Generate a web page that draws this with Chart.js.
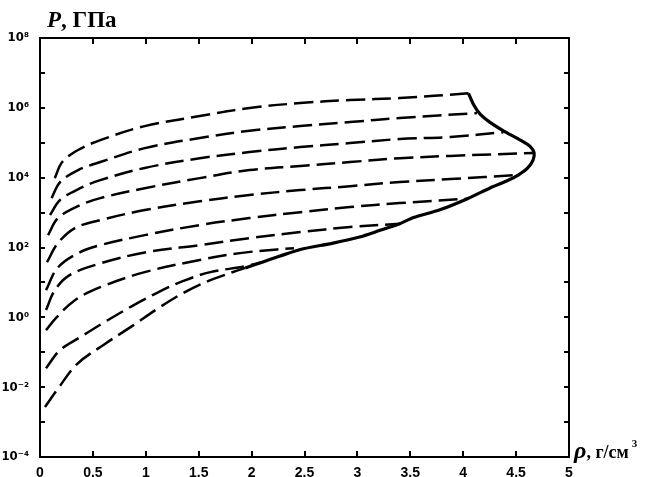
<!DOCTYPE html>
<html><head><meta charset="utf-8">
<script src="https://cdn.jsdelivr.net/npm/chart.js@4.4.1/dist/chart.umd.min.js"></script>
<style>
html,body{margin:0;padding:0;background:#fff;}
#wrap{position:relative;width:650px;height:477px;overflow:hidden;}
canvas{position:absolute;left:0;top:0;}
.t{position:absolute;font-family:"Liberation Serif",serif;font-weight:bold;color:#000;white-space:nowrap;line-height:1;}
</style></head><body>
<div id="wrap"><canvas id="c" width="650" height="477"></canvas>
<div class="t" style="left:47px;top:8px;font-size:23px;"><i>P</i>, ГПа</div>
<div class="t" style="left:574px;top:438px;font-size:18px;"><i style="font-size:24px;">ρ</i>, г/см<sup style="font-size:11px;position:relative;top:-4px;margin-left:3px;">3</sup></div>
</div>
<script>
// tick values / labels
const xTicks = [0,0.5,1,1.5,2,2.5,3,3.5,4,4.5,5];
const xTickLabels = ['0','0.5','1','1.5','2','2.5','3','3.5','4','4.5','5'];
const yTicks = [1e-4,1e-3,1e-2,1e-1,1e0,1e1,1e2,1e3,1e4,1e5,1e6,1e7,1e8];
const yTickLabels = ['10⁻⁴','','10⁻²','','10⁰','','10²','','10⁴','','10⁶','','10⁸'];

// dashed curves: density (g/cm3) and pressure (GPa)
const rho1 = [0.14,0.21,0.36,0.57,0.99,1.51,1.98,2.46,2.93,3.40,4.05];
const p1   = [9.7e3,2.8e4,6.2e4,1.19e5,3.0e5,5.8e5,9.9e5,1.37e6,1.67e6,1.9e6,2.6e6];
const rho2 = [0.11,0.19,0.36,0.57,0.99,1.51,1.98,2.46,2.93,3.40,4.13];
const p2   = [2.6e3,7.5e3,1.65e4,2.8e4,7.0e4,1.36e5,2.2e5,3.0e5,3.9e5,5.1e5,7.1e5];
const rho3 = [0.095,0.19,0.38,0.57,0.99,1.51,1.98,2.46,2.93,3.40,3.88,4.38];
const p3   = [850,2.3e3,5.0e3,8.5e3,1.9e4,3.6e4,5.4e4,7.5e4,9.8e4,1.28e5,1.46e5,2.0e5];
const rho4 = [0.076,0.17,0.38,0.57,0.99,1.51,1.98,2.46,2.93,3.40,3.88,4.67];
const p4   = [226,695,1.64e3,2.6e3,5.0e3,9.7e3,1.65e4,2.15e4,2.8e4,3.6e4,4.2e4,5.1e4];
const rho5 = [0.066,0.17,0.33,0.57,0.99,1.51,1.98,2.46,2.93,3.40,3.88,4.52];
const p5   = [38,134,360,610,1.18e3,2.1e3,3.2e3,4.4e3,5.7e3,7.5e3,9.1e3,1.19e4];
const rho6 = [0.057,0.17,0.38,0.57,0.99,1.51,1.98,2.46,2.93,3.40,4.04];
const p6   = [6.0,27,74,117,226,440,695,1.03e3,1.44e3,1.87e3,2.5e3];
const rho7 = [0.057,0.14,0.28,0.57,0.99,1.51,1.98,2.46,2.93,3.40];
const p7   = [1.61,6.0,16.2,35,72,117,186,276,385,480];
const rho8 = [0.057,0.15,0.33,0.57,0.99,1.51,1.89,2.24,2.40];
const p8   = [0.43,0.95,3.1,7.3,19.7,44,69,88,95];
const rho9 = [0.057,0.19,0.38,0.61,0.87,1.12,1.35,1.61,1.94,2.10];
const p9   = [0.035,0.115,0.27,0.73,2.1,5.3,10.9,19.7,29,38];
const rho10 = [0.047,0.16,0.35,0.61,0.87,1.12,1.37,1.61,1.94];
const p10   = [0.0027,0.0082,0.046,0.17,0.56,1.84,5.3,11.6,26];

// solid boundary curve
const rhoS = [1.94,2.10,2.27,2.46,2.77,3.02,3.20,3.40,3.53,3.78,4.04,4.25,4.41,4.52,4.61,4.66,4.67,4.63,4.54,4.38,4.25,4.16,4.10,4.05];
const pS   = [26,38,57,88,134,200,300,480,720,1.2e3,2.5e3,5.0e3,8.0e3,1.19e4,1.9e4,3.2e4,5.1e4,8.0e4,1.19e5,2.2e5,3.9e5,6.6e5,1.2e6,2.6e6];

const dashed = [[rho1,p1],[rho2,p2],[rho3,p3],[rho4,p4],[rho5,p5],[rho6,p6],[rho7,p7],[rho8,p8],[rho9,p9],[rho10,p10]];
const pts = (r,p) => r.map((v,i)=>({x:v,y:p[i]}));

const datasets = dashed.map(([r,p])=>({
  data: pts(r,p), showLine:true, pointRadius:0, borderColor:'#000', borderWidth:2.5,
  borderDash:[19,7], tension:0.35, fill:false
}));
datasets.push({data: pts(rhoS,pS), showLine:true, pointRadius:0, borderColor:'#000', borderWidth:3.2, tension:0.25, fill:false});

const xFont = {family:'"Liberation Sans", Arial, sans-serif', size:14, weight:'bold'};
const yFont = {family:'"DejaVu Sans Condensed", "DejaVu Sans", sans-serif', size:13, weight:'bold'};

const boxPlugin = {
  id:'box',
  afterDraw(chart){
    const {ctx, chartArea:a, scales:{x,y}} = chart;
    ctx.save();
    ctx.strokeStyle='#000';
    ctx.lineWidth=2;
    ctx.strokeRect(a.left, a.top, a.right-a.left, a.bottom-a.top);
    x.ticks.forEach(t=>{
      const px = Math.round(x.getPixelForValue(t.value));
      ctx.beginPath(); ctx.moveTo(px,a.bottom); ctx.lineTo(px,a.bottom-6);
      ctx.moveTo(px,a.top); ctx.lineTo(px,a.top+6); ctx.stroke();
    });
    y.ticks.forEach(t=>{
      const py = Math.round(y.getPixelForValue(t.value));
      ctx.beginPath(); ctx.moveTo(a.left,py); ctx.lineTo(a.left+5,py);
      ctx.moveTo(a.right,py); ctx.lineTo(a.right-5,py); ctx.stroke();
    });
    ctx.restore();
  }
};

new Chart(document.getElementById('c'), {
  type:'scatter',
  data:{datasets},
  plugins:[boxPlugin],
  options:{
    responsive:false, animation:false,
    layout:{padding:{top:38,right:81,left:0,bottom:0}},
    plugins:{legend:{display:false}, tooltip:{enabled:false}},
    scales:{
      x:{type:'linear', min:0, max:5,
        afterBuildTicks:s=>{s.ticks = xTicks.map(v=>({value:v}));},
        ticks:{callback:(v,i)=>xTickLabels[i], font:xFont, color:'#000', padding:0, maxRotation:0, autoSkip:false},
        grid:{display:false}, border:{display:false},
        afterFit:s=>{s.height=20;}
      },
      y:{type:'logarithmic', min:1e-4, max:1e8,
        afterBuildTicks:s=>{s.ticks = yTicks.map(v=>({value:v}));},
        ticks:{callback:(v,i)=>yTickLabels[i], font:yFont, color:'#000', padding:3, autoSkip:false},
        grid:{display:false}, border:{display:false},
        afterFit:s=>{s.width=40;}
      }
    }
  }
});
</script>
</body></html>
